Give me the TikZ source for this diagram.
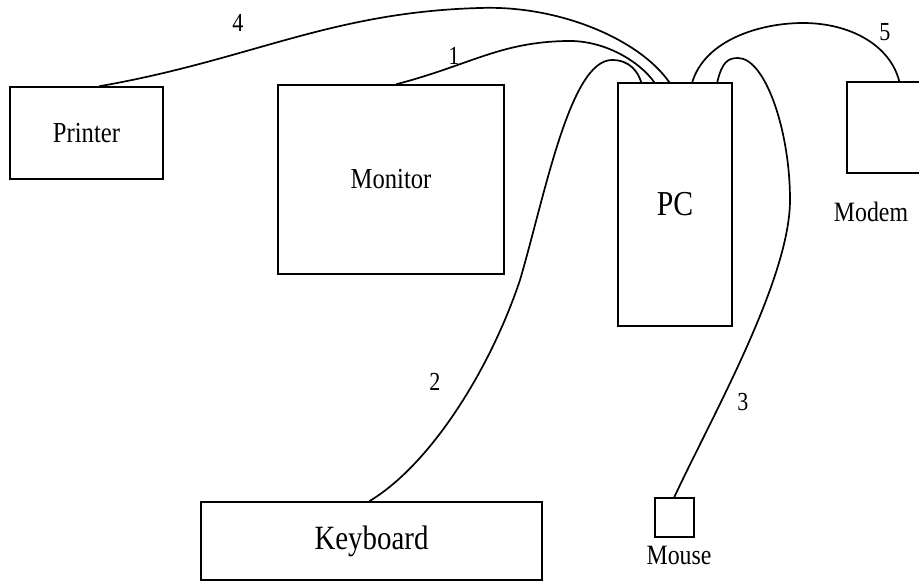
\documentclass[tikz,border=0pt]{standalone}
\usepackage{fontspec}
\setmainfont{Liberation Serif}[FakeStretch=0.85]
\begin{document}
\begin{tikzpicture}[x=1pt,y=-1pt,
  box/.style={draw, line width=1.5pt, rectangle, inner sep=0pt},
  cable/.style={line width=1.7pt},
  lbl/.style={inner sep=0pt, font=\fontsize{28}{30}\selectfont},
  num/.style={inner sep=0pt, font=\fontsize{26}{28}\selectfont}]
\useasboundingbox (0,0) rectangle (919,583);
\clip (0,0) rectangle (919,583);
% devices
\node[box, minimum width=153, minimum height=92, font=\fontsize{29}{31}\selectfont] (printer) at (86.5,133) {Printer};
\node[box, minimum width=226, minimum height=189, font=\fontsize{29}{31}\selectfont] (monitor) at (391,179.5) {Monitor};
\node[box, minimum width=114, minimum height=243, font=\fontsize{35}{37}\selectfont] (pc) at (675,204.5) {PC};
\node[box, minimum width=90, minimum height=91] (modem) at (892,127.5) {};
\node[lbl] (modemlbl) at (871,212) {Modem};
\node[box, minimum width=341, minimum height=78, font=\fontsize{34}{36}\selectfont] (kbd) at (371.5,541) {Keyboard};
\node[box, minimum width=39, minimum height=39] (mouse) at (674.5,517.5) {};
\node[lbl] (mouselbl) at (679,555) {Mouse};
% cable end points
\coordinate (c4a) at ([xshift=90]printer.north west);
\coordinate (c4b) at ([xshift=52]pc.north west);
\coordinate (c1a) at ([xshift=119]monitor.north west);
\coordinate (c1b) at ([xshift=37]pc.north west);
\coordinate (c2a) at ([xshift=169]kbd.north west);
\coordinate (c2b) at ([xshift=24]pc.north west);
\coordinate (c3a) at ([xshift=100]pc.north west);
\coordinate (c3b) at ([xshift=20]mouse.north west);
\coordinate (c5a) at ([xshift=75]pc.north west);
\coordinate (c5b) at ([xshift=53]modem.north west);
% cables
\draw[cable] (c4a) .. controls (250,60) and (330,12) .. (480,8)
                   .. controls (560,5) and (640,40) .. (c4b);
\draw[cable] (c1a) .. controls (470,65) and (500,42) .. (567,41)
                   .. controls (605,40) and (640,62) .. (c1b);
\draw[cable] (c2a) .. controls (430,465) and (490,370) .. (520,280)
                   .. controls (545,195) and (570,60) .. (612,60)
                   .. controls (630,60) and (638,72) .. (c2b);
\draw[cable] (c3a) .. controls (722,62) and (728,58) .. (738,58)
                   .. controls (765,58) and (790,130) .. (790,200)
                   .. controls (790,280) and (710,420) .. (c3b);
\draw[cable] (c5a) .. controls (705,40) and (760,23) .. (803,23)
                   .. controls (850,23) and (890,45) .. (c5b);
% cable numbers
\node[num] (n4) at (238,23) {4};
\node[num] (n1) at (454,56) {1};
\node[num] (n2) at (435,382) {2};
\node[num] (n3) at (743,402) {3};
\node[num] (n5) at (885,32) {5};
\end{tikzpicture}
\end{document}
